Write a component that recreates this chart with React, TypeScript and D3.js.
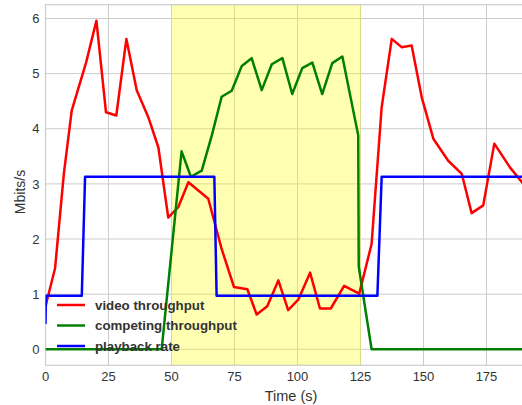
import React from "react";
import * as d3 from "d3";

const videoT = [0, 3.8, 7.3, 10.4, 16.1, 20.2, 24.0, 28.1, 32.1, 36.2, 40.8, 44.8, 48.7, 52.7, 56.7, 64.6, 69.9, 74.8, 80.1, 83.8, 88.0, 92.4, 96.3, 100.3, 105.0, 108.9, 113.2, 118.5, 124.5, 129.4, 133.4, 137.4, 141.3, 145.3, 149.3, 153.9, 159.8, 165.2, 169.1, 173.7, 178.1, 184.3, 190];
const videoV = [0.78, 1.47, 3.19, 4.33, 5.2, 5.96, 4.3, 4.24, 5.63, 4.7, 4.21, 3.66, 2.39, 2.58, 3.03, 2.73, 1.82, 1.13, 1.09, 0.63, 0.78, 1.25, 0.71, 0.9, 1.39, 0.74, 0.74, 1.15, 1.01, 1.91, 4.39, 5.63, 5.48, 5.51, 4.57, 3.82, 3.42, 3.18, 2.47, 2.61, 3.73, 3.3, 2.98];

const compT = [0, 46.1, 54.0, 57.7, 62.0, 66.0, 69.9, 73.9, 77.9, 81.8, 85.8, 89.8, 94.0, 97.9, 101.9, 105.9, 109.8, 113.8, 117.8, 124.1, 124.3, 129.4, 190];
const compV = [0, 0, 3.59, 3.13, 3.24, 3.88, 4.58, 4.69, 5.14, 5.28, 4.7, 5.17, 5.28, 4.63, 5.1, 5.2, 4.63, 5.19, 5.31, 3.88, 1.5, 0, 0];

const rateT = [0, 0.2, 14.4, 15.7, 67.0, 67.9, 131.7, 133.4, 190];
const rateV = [0.46, 0.97, 0.97, 3.13, 3.13, 0.97, 0.97, 3.13, 3.13];

const xTicks = [0, 25, 50, 75, 100, 125, 150, 175];
const yTicks = [0, 1, 2, 3, 4, 5, 6];
const spanStart = 50;
const spanEnd = 125;

const series = [
  { name: "video throughput", t: videoT, v: videoV, color: "#ff0000" },
  { name: "competing throughput", t: compT, v: compV, color: "#008000" },
  { name: "playback rate", t: rateT, v: rateV, color: "#0000ff" },
];

const W = 522;
const H = 405;
const left = 45.5;
const top = 4.7;
const bottom = 365.3;

export default function App() {
  const x = d3.scaleLinear().domain([0, 190]).range([left, left + 190 * 2.52]);
  const y = d3.scaleLinear().domain([-0.29, 6.25]).range([bottom, top]);
  const line = d3
    .line<[number, number]>()
    .x((d) => x(d[0]))
    .y((d) => y(d[1]));
  const font = "'Liberation Sans', Arial, sans-serif";
  const right = W + 5;
  return (
    <svg
      width={W}
      height={H}
      style={{ position: "absolute", left: 0, top: 0, background: "#fff" }}
      fontFamily={font}
    >
      <defs>
        <clipPath id="plot">
          <rect x={left} y={top} width={right - left} height={bottom - top} />
        </clipPath>
      </defs>
      {xTicks.map((t) => (
        <line key={"gx" + t} x1={x(t)} x2={x(t)} y1={top} y2={bottom} stroke="#cccccc" strokeWidth={1} />
      ))}
      {yTicks.map((t) => (
        <line key={"gy" + t} x1={left} x2={right} y1={y(t)} y2={y(t)} stroke="#cccccc" strokeWidth={1} />
      ))}
      <rect
        x={x(spanStart)}
        y={top}
        width={x(spanEnd) - x(spanStart)}
        height={bottom - top}
        fill="#ffff00"
        fillOpacity={0.3}
        stroke="#e0e070"
        strokeOpacity={0.6}
        strokeWidth={1}
      />
      <rect x={left} y={top} width={right - left} height={bottom - top} fill="none" stroke="#cccccc" strokeWidth={1.2} />
      <g clipPath="url(#plot)">
        {series.map((s) => (
          <path
            key={s.name}
            d={line(s.t.map((t, i) => [t, s.v[i]] as [number, number])) || ""}
            fill="none"
            stroke={s.color}
            strokeWidth={2.5}
            strokeLinejoin="round"
          />
        ))}
      </g>
      {xTicks.map((t) => (
        <text key={"tx" + t} x={x(t)} y={380.5} textAnchor="middle" fontSize={13} fill="#333">
          {t}
        </text>
      ))}
      {yTicks.map((t) => (
        <text key={"ty" + t} x={39.5} y={y(t)} dy="0.36em" textAnchor="end" fontSize={13} fill="#333">
          {t}
        </text>
      ))}
      <text x={291} y={400.5} textAnchor="middle" fontSize={14.5} fill="#333">
        Time (s)
      </text>
      <text
        transform={`translate(24.5,${(top + bottom) / 2 + 7}) rotate(-90)`}
        textAnchor="middle"
        fontSize={14}
        fill="#333"
      >
        Mbits/s
      </text>
      {series.map((s, i) => (
        <g key={"lg" + s.name} transform={`translate(0,${305 + i * 20.5})`}>
          <line x1={57} x2={85} y1={0} y2={0} stroke={s.color} strokeWidth={2.5} />
          <text x={95} y={0} dy="0.35em" fontSize={13.3} fontWeight="bold" fill="#333">
            {s.name}
          </text>
        </g>
      ))}
    </svg>
  );
}
